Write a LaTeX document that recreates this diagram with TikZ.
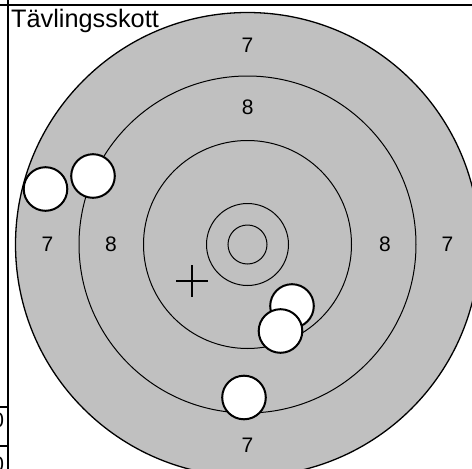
\documentclass[tikz,border=0pt]{standalone}
\usepackage{fontspec}
\setmainfont{Liberation Sans}
\definecolor{tgrey}{RGB}{192,192,192}
\begin{document}
\begin{tikzpicture}[x=1pt,y=-1pt,
  ring/.style={draw=black, fill=tgrey, line width=1pt},
  shot/.style={circle, draw=black, fill=white, line width=2pt, minimum size=43.6pt, inner sep=0pt},
  score/.style={font=\fontsize{21}{21}\selectfont, inner sep=0pt},
  frameline/.style={draw=black, line width=1.5pt},
  crossline/.style={draw=black, line width=1.3pt}]
\useasboundingbox (0,0) rectangle (472,469);
\coordinate (c) at (247.5,244.5);
% target rings
\draw[ring, line width=1.3pt] (c) circle[radius=232];
\draw[ring] (c) circle[radius=168.5];
\draw[ring] (c) circle[radius=104];
\draw[ring] (c) circle[radius=41];
\draw[ring] (c) circle[radius=19.5];
% frame lines
\coordinate (tl) at (0,5);
\coordinate (tr) at (472,5);
\coordinate (vt) at (8,0);
\coordinate (vb) at (8,469);
\draw[frameline, line width=2pt] (tl) -- (tr);
\draw[frameline] (vt) -- (vb);
\coordinate (h1a) at (0,407);
\coordinate (h1b) at (8,407);
\coordinate (h2a) at (0,446);
\coordinate (h2b) at (8,446);
\draw[frameline] (h1a) -- (h1b);
\draw[frameline] (h2a) -- (h2b);
\node[score, anchor=base east] (z1) at (4.2,427.3) {0};
\node[score, anchor=base east] (z2) at (4.2,471.3) {0};
% title
\node[anchor=base west, inner sep=0pt, font=\fontsize{25.3}{25.3}\selectfont] (title) at (11,27.5) {Tävlingsskott};
% score labels
\node[score] (t7) at (247.5,45) {7};
\node[score] (t8) at (247.8,107.5) {8};
\node[score] (l7) at (47.5,244.5) {7};
\node[score] (l8) at (111,244.5) {8};
\node[score] (r8) at (385,244.5) {8};
\node[score] (r7) at (447.5,244.5) {7};
\node[score] (b7) at (247.5,445) {7};
% aim cross
\coordinate (xl) at (176,281);
\coordinate (xr) at (208,281);
\coordinate (xt) at (192,265);
\coordinate (xb) at (192,297);
\draw[crossline] (xl) -- (xr);
\draw[crossline] (xt) -- (xb);
% shots
\node[shot] (s1) at (45.5,189) {};
\node[shot] (s2) at (93,176) {};
\node[shot] (s3) at (292,306) {};
\node[shot] (s4) at (280.5,331) {};
\node[shot] (s5) at (244,397.5) {};
\end{tikzpicture}
\end{document}
